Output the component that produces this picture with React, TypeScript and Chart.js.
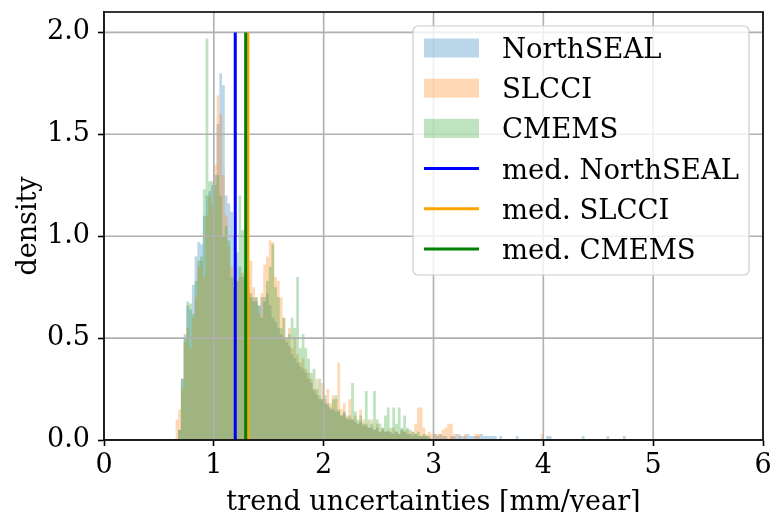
import React, { useEffect, useRef } from 'react';
import { Chart, registerables } from 'chart.js';

Chart.register(...registerables);

// ---- data (density histograms, bin edges start at BIN_START, width BIN_WIDTH) ----
const BIN_START = 0.65;
const BIN_WIDTH = 0.025;

const northseal = [
  0, 0.05, 0.3, 0.52, 0.66, 0.64, 0.76, 0.9, 0.97, 0.96,
  1.1, 1.2, 1.22, 1.25, 1.3, 1.55, 1.8, 1.74, 1.2, 1.16,
  1.12, 1.0, 0.92, 0.85, 0.8, 0.78, 0.75, 0.72, 0.7, 0.68,
  0.66, 0.7, 0.68, 0.72, 0.66, 0.6, 0.58, 0.55, 0.52, 0.5,
  0.48, 0.46, 0.42, 0.4, 0.38, 0.36, 0.35, 0.33, 0.3, 0.28,
  0.24, 0.22, 0.2, 0.2, 0.18, 0.17, 0.16, 0.15, 0.14, 0.14,
  0.12, 0.13, 0.11, 0.1, 0.1, 0.09, 0.08, 0.09, 0.07, 0.07,
  0.06, 0.06, 0.05, 0.06, 0.04, 0.05, 0.04, 0.04, 0.04, 0.03,
  0.04, 0.03, 0.05, 0.04, 0.03, 0.03, 0.02, 0.03, 0.02, 0.02,
  0.02, 0.02, 0.02, 0, 0.03, 0.02, 0.03, 0.02, 0.02, 0,
  0.02, 0.02, 0.03, 0.02, 0.02, 0.02, 0.03, 0.02, 0.02, 0.02,
  0.02, 0.03, 0.02, 0.02, 0.02, 0.02, 0.02, 0, 0.02, 0,
  0, 0, 0, 0, 0.02, 0, 0, 0, 0, 0,
  0, 0, 0, 0, 0, 0.02, 0.02, 0, 0, 0,
  0, 0, 0, 0, 0, 0, 0, 0, 0.02, 0,
  0, 0, 0, 0, 0, 0, 0, 0.02, 0, 0,
  0, 0, 0, 0.02, 0, 0,
];

const slcci = [
  0.1, 0.15, 0.25, 0.48, 0.55, 0.45, 0.6, 0.7, 0.85, 0.88,
  0.8, 1.1, 1.2, 1.15, 1.35, 1.69, 1.6, 1.3, 1.1, 0.95,
  0.85, 0.8, 0.78, 0.8, 0.82, 0.86, 0.8, 0.88, 0.75, 0.7,
  0.62, 0.72, 0.86, 0.9, 0.98, 0.97, 0.8, 0.78, 0.7, 0.6,
  0.5, 0.55, 0.45, 0.5, 0.42, 0.38, 0.4, 0.35, 0.33, 0.3,
  0.25, 0.3, 0.22, 0.28, 0.2, 0.25, 0.18, 0.22, 0.2, 0.38,
  0.15, 0.18, 0.12, 0.2, 0.1, 0.12, 0.08, 0.15, 0.1, 0.08,
  0.06, 0.1, 0.05, 0.08, 0.04, 0.06, 0.04, 0.05, 0.03, 0.06,
  0.04, 0.03, 0.05, 0.04, 0.05, 0.03, 0.04, 0.08, 0.16, 0.16,
  0.06, 0.03, 0.04, 0.03, 0.03, 0.03, 0.03, 0.05, 0.06, 0.08,
  0.08, 0.03, 0, 0.03, 0, 0.03, 0, 0, 0, 0.03,
  0.03, 0, 0, 0, 0, 0, 0, 0, 0, 0,
  0, 0, 0, 0, 0, 0, 0, 0, 0, 0,
  0, 0, 0, 0.03,
];

const cmems = [
  0, 0.05, 0.3, 0.5, 0.68, 0.67, 0.62, 0.78, 0.88, 0.9,
  1.23, 1.97, 1.27, 1.27, 1.25, 1.3, 1.2, 1.0, 1.05, 0.98,
  0.8, 0.75, 0.78, 1.2, 1.03, 0.8, 0.72, 0.7, 0.68, 0.7,
  0.66, 0.6, 0.7, 0.78, 0.85, 0.96, 0.75, 0.7, 0.55, 0.6,
  0.5, 0.52, 0.6, 0.55, 0.8, 0.45, 0.52, 0.45, 0.4, 0.33,
  0.35, 0.25, 0.3, 0.2, 0.22, 0.18, 0.15, 0.2, 0.22, 0.15,
  0.12, 0.14, 0.1, 0.12, 0.28, 0.14, 0.1, 0.12, 0.08, 0.24,
  0.1, 0.08, 0.24, 0.1, 0.08, 0.06, 0.12, 0.16, 0.06, 0.16,
  0.08, 0.16, 0.06, 0.12, 0.06, 0.05, 0.04, 0.03, 0.04, 0.02,
  0.03, 0.02, 0.01,
];

const seriesNames = ['NorthSEAL', 'SLCCI', 'CMEMS'];
const medianNames = ['med. NorthSEAL', 'med. SLCCI', 'med. CMEMS'];
const medians = [1.195, 1.31, 1.29];
const MEDIAN_TOP = 2.0;

const xTicks = [0, 1, 2, 3, 4, 5, 6];
const yTicks = [0, 0.5, 1.0, 1.5, 2.0];
const X_MIN = 0, X_MAX = 6, Y_MIN = 0, Y_MAX = 2.1;

const X_TITLE = 'trend uncertainties [mm/year]';
const Y_TITLE = 'density';

// ---- styles ----
const FONT = 'DejaVu Serif';
const FS = 27;
const LEGEND_FS = 27.5;
const histColors = ['rgba(31,119,180,0.3)', 'rgba(255,127,14,0.3)', 'rgba(44,160,44,0.3)'];
const medianColors = ['#0000ff', '#ffa500', '#008000'];
const GRID_COLOR = '#b0b0b0';

function toSteps(vals: number[]) {
  const pts = vals.map((v, i) => ({ x: BIN_START + i * BIN_WIDTH, y: v }));
  pts.push({ x: BIN_START + vals.length * BIN_WIDTH, y: 0 });
  return pts;
}

const overlayPlugin = {
  id: 'overlay',
  afterDatasetDraw(chart: any, args: any) {
    if (args.index !== 2) return;
    const { ctx, chartArea: a, scales } = chart;
    ctx.save();
    ctx.strokeStyle = GRID_COLOR;
    ctx.lineWidth = 1.6;
    ctx.beginPath();
    xTicks.forEach((v) => {
      const px = scales.x.getPixelForValue(v);
      ctx.moveTo(px, a.top);
      ctx.lineTo(px, a.bottom);
    });
    yTicks.forEach((v) => {
      const py = scales.y.getPixelForValue(v);
      ctx.moveTo(a.left, py);
      ctx.lineTo(a.right, py);
    });
    ctx.stroke();
    ctx.restore();
  },
  afterDraw(chart: any) {
    const { ctx, chartArea: a } = chart;
    ctx.save();
    // spines
    ctx.strokeStyle = '#000';
    ctx.lineWidth = 1.6;
    ctx.strokeRect(a.left, a.top, a.right - a.left, a.bottom - a.top);

    // axis titles
    ctx.fillStyle = '#000';
    ctx.font = `${FS}px "${FONT}"`;
    ctx.textAlign = 'center';
    ctx.textBaseline = 'alphabetic';
    ctx.fillText(X_TITLE, (a.left + a.right) / 2, 510);
    ctx.save();
    ctx.translate(36, (a.top + a.bottom) / 2);
    ctx.rotate(-Math.PI / 2);
    ctx.fillText(Y_TITLE, 0, 0);
    ctx.restore();

    // legend
    const w = 336, h = 249;
    const lx = a.right - 14 - w;
    const ly = a.top + 14;
    ctx.beginPath();
    const r = 5;
    ctx.moveTo(lx + r, ly);
    ctx.arcTo(lx + w, ly, lx + w, ly + h, r);
    ctx.arcTo(lx + w, ly + h, lx, ly + h, r);
    ctx.arcTo(lx, ly + h, lx, ly, r);
    ctx.arcTo(lx, ly, lx + w, ly, r);
    ctx.closePath();
    ctx.fillStyle = 'rgba(255,255,255,0.8)';
    ctx.fill();
    ctx.strokeStyle = '#cccccc';
    ctx.lineWidth = 1.2;
    ctx.stroke();

    ctx.font = `${LEGEND_FS}px "${FONT}"`;
    const labels = [...seriesNames, ...medianNames];
    const rowH = 40.2;
    labels.forEach((lab, i) => {
      const cy = ly + 22 + i * rowH;
      if (i < 3) {
        ctx.fillStyle = histColors[i];
        ctx.fillRect(lx + 11, cy - 9.5, 55, 19);
      } else {
        ctx.strokeStyle = medianColors[i - 3];
        ctx.lineWidth = 3;
        ctx.beginPath();
        ctx.moveTo(lx + 11, cy);
        ctx.lineTo(lx + 66, cy);
        ctx.stroke();
      }
      ctx.fillStyle = '#000';
      ctx.textAlign = 'left';
      ctx.textBaseline = 'alphabetic';
      ctx.fillText(lab, lx + 89, cy + 10);
    });
    ctx.restore();
  },
};

export default function App() {
  const ref = useRef<HTMLCanvasElement | null>(null);
  useEffect(() => {
    document.body.style.margin = '0';
    if (!ref.current) return;
    const hists = [northseal, slcci, cmems];
    const datasets: any[] = [];
    hists.forEach((vals, i) => {
      datasets.push({
        type: 'line',
        label: seriesNames[i],
        data: toSteps(vals),
        stepped: true,
        fill: 'origin',
        backgroundColor: histColors[i],
        borderColor: 'rgba(0,0,0,0)',
        borderWidth: 0,
        pointRadius: 0,
        order: 6 - i,
      });
    });
    medians.forEach((m, i) => {
      datasets.push({
        type: 'line',
        label: medianNames[i],
        data: [{ x: m, y: 0 }, { x: m, y: MEDIAN_TOP }],
        borderColor: medianColors[i],
        borderWidth: 3,
        pointRadius: 0,
        fill: false,
        order: 3 - i,
      });
    });

    const font = { family: FONT, size: FS };
    const chart = new Chart(ref.current, {
      type: 'line',
      data: { datasets },
      plugins: [overlayPlugin],
      options: {
        animation: false,
        responsive: false,
        devicePixelRatio: 1,
        layout: { padding: { top: 12, right: 10, left: 0, bottom: 0 } },
        plugins: { legend: { display: false }, tooltip: { enabled: false } },
        scales: {
          x: {
            type: 'linear',
            min: X_MIN,
            max: X_MAX,
            afterBuildTicks: (s: any) => { s.ticks = xTicks.map((v) => ({ value: v })); },
            afterFit: (s: any) => { s.height = 72; s.paddingLeft = 0; s.paddingRight = 0; },
            ticks: { font, color: '#000', padding: 4, maxRotation: 0, autoSkip: false, callback: (v: any) => String(v) },
            grid: { drawOnChartArea: false, drawTicks: true, tickLength: 6, tickWidth: 1.6, tickColor: '#000' },
            border: { display: true, color: '#000', width: 1.6 },
          },
          y: {
            type: 'linear',
            min: Y_MIN,
            max: Y_MAX,
            afterBuildTicks: (s: any) => { s.ticks = yTicks.map((v) => ({ value: v })); },
            afterFit: (s: any) => { s.width = 104; s.paddingTop = 0; s.paddingBottom = 0; },
            ticks: { font, color: '#000', padding: 8, autoSkip: false, callback: (v: any) => Number(v).toFixed(1) },
            grid: { drawOnChartArea: false, drawTicks: true, tickLength: 6, tickWidth: 1.6, tickColor: '#000' },
            border: { display: true, color: '#000', width: 1.6 },
          },
        },
      } as any,
    });
    return () => chart.destroy();
  }, []);
  return (
    <div style={{ width: 773, height: 512 }}>
      <canvas ref={ref} width={773} height={512} style={{ display: 'block' }} />
    </div>
  );
}
